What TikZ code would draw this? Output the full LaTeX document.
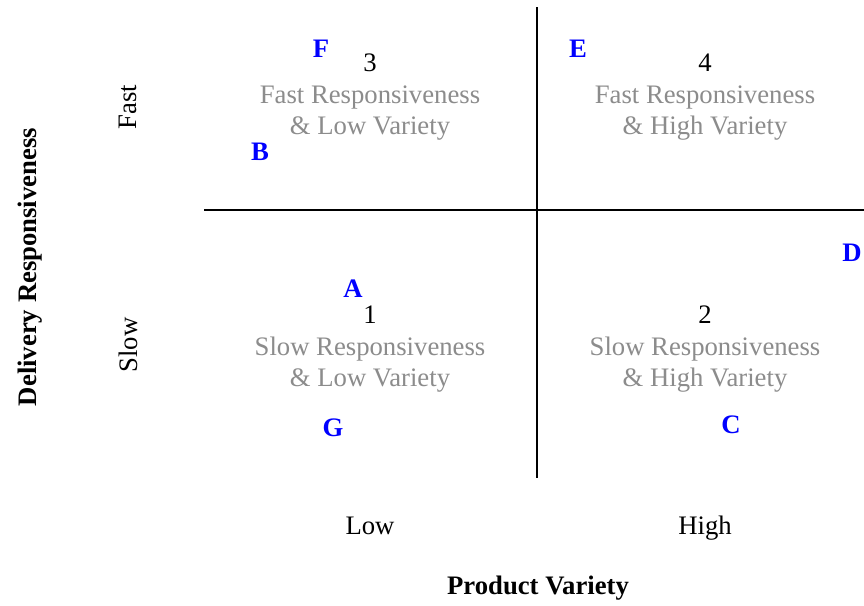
\documentclass[tikz,border=0pt]{standalone}
\usepackage{fontspec}
\setmainfont{Liberation Serif}
\definecolor{qgray}{HTML}{8C8C8C}
\definecolor{qblue}{HTML}{0000FF}
\begin{document}
\begin{tikzpicture}[x=1pt,y=-1pt,
  txt/.style={inner sep=0pt,font=\fontsize{26.7}{31}\selectfont},
  quad/.style={txt,text=qgray,align=center},
  num/.style={txt,text=black},
  pt/.style={txt,text=qblue,font=\fontsize{26.7}{31}\selectfont\bfseries},
  axlab/.style={txt,font=\fontsize{26.7}{31}\selectfont\bfseries},
  axline/.style={draw=black,line width=1.6pt}]
\clip (0,0) rectangle (864,605);
\fill[white] (0,0) rectangle (864,605);
% axes
\coordinate (vtop) at (537,7);
\coordinate (vbot) at (537,478);
\coordinate (hl) at (204,210);
\coordinate (hr) at (864,210);
\draw[axline] (vtop) -- (vbot);
\draw[axline] (hl) -- (hr);
% quadrant numbers
\node[num] (n3) at (370,63) {3};
\node[num] (n4) at (705,63) {4};
\node[num] (n1) at (370,315) {1};
\node[num] (n2) at (705,315) {2};
% quadrant texts
\node[quad] (q3) at (370,113) {Fast Responsiveness\\\& Low Variety};
\node[quad] (q4) at (705,113) {Fast Responsiveness\\\& High Variety};
\node[quad] (q1) at (370,365) {Slow Responsiveness\\\& Low Variety};
\node[quad] (q2) at (705,365) {Slow Responsiveness\\\& High Variety};
% points
\node[pt] (F) at (321,49) {F};
\node[pt] (E) at (578,49) {E};
\node[pt] (B) at (260,152) {B};
\node[pt] (D) at (852,253) {D};
\node[pt] (A) at (353,289) {A};
\node[pt] (G) at (333,428) {G};
\node[pt] (C) at (731,425) {C};
% axis labels
\node[txt] (low) at (370,526) {Low};
\node[txt] (high) at (705,528) {High};
\node[axlab] (pv) at (538,588) {Product Variety};
\node[axlab,rotate=90] (dr) at (30,267) {Delivery Responsiveness};
\node[txt,rotate=90] (fast) at (128,107) {Fast};
\node[txt,rotate=90] (slow) at (128,345) {Slow};
\end{tikzpicture}
\end{document}
